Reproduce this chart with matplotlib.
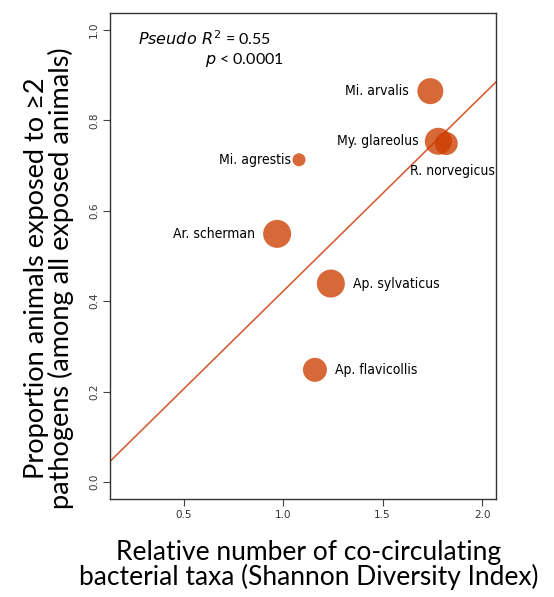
import matplotlib
matplotlib.use("Agg")
import matplotlib.pyplot as plt
import numpy as np

# Данные по видам
species = ["Mi. arvalis", "My. glareolus", "R. norvegicus", "Mi. agrestis",
           "Ar. scherman", "Ap. sylvaticus", "Ap. flavicollis"]
shannon = [1.74, 1.78, 1.82, 1.08, 0.97, 1.24, 1.16]
prop_multi = [0.865, 0.754, 0.749, 0.713, 0.549, 0.439, 0.248]
marker_diam = [26, 27, 23, 13, 28, 28, 24]  # диаметр кружка, px

# Регрессия
slope = 0.433
intercept = -0.011

pt_col = "#CC3D00"
line_col = "#D4603A"
dpi = 100
W, H = 554, 597

fig = plt.figure(figsize=(W / dpi, H / dpi), dpi=dpi)
ax = fig.add_axes([110 / W, 1 - 499 / H, 386 / W, 486 / H])

sizes = [(d * 72 / dpi) ** 2 for d in marker_diam]
ax.scatter(shannon, prop_multi, s=sizes, color=pt_col, alpha=0.78,
           linewidths=0, zorder=3)

xl = np.array([0.13, 2.07])
ax.plot(xl, intercept + slope * xl, color=line_col, lw=1.2, zorder=2)

ax.set_xlim(0.13, 2.07)
ax.set_ylim(-0.038, 1.038)

# Подписи видов
lab_font = dict(family="DejaVu Sans", fontstretch="condensed", fontsize=10)
offsets = {
    "Mi. arvalis": (-0.11, 0.0, "right", "center"),
    "My. glareolus": (-0.10, 0.0, "right", "center"),
    "R. norvegicus": (0.03, -0.06, "center", "center"),
    "Mi. agrestis": (-0.04, 0.0, "right", "center"),
    "Ar. scherman": (-0.11, 0.0, "right", "center"),
    "Ap. sylvaticus": (0.11, 0.0, "left", "center"),
    "Ap. flavicollis": (0.10, 0.0, "left", "center"),
}
for name, x, y in zip(species, shannon, prop_multi):
    dx, dy, ha, va = offsets[name]
    ax.text(x + dx, y + dy, name, ha=ha, va=va, **lab_font)

fig.text(138 / W, 1 - 39 / H, r"$\it{Pseudo\ R}^2$ = 0.55", fontsize=11.5,
         family="Lato", va="center", ha="left")
fig.text(205 / W, 1 - 60 / H, r"$\it{p}$ < 0.0001", fontsize=11.5,
         family="Lato", va="center", ha="left")

ax.set_xticks([0.5, 1.0, 1.5, 2.0])
ax.set_yticks([0.0, 0.2, 0.4, 0.6, 0.8, 1.0])
ax.tick_params(axis="both", labelsize=7.5, length=5, color="#444444",
               labelcolor="#333333", direction="out", pad=3)
for lbl in ax.get_yticklabels():
    lbl.set_rotation(90)
    lbl.set_va("center")
for sp in ax.spines.values():
    sp.set_color("#333333")
    sp.set_linewidth(1.0)

# Подписи осей
fig.text(309 / W, 1 - 565 / H,
         "Relative number of co-circulating\nbacterial taxa (Shannon Diversity Index)",
         fontsize=19, family="Lato", linespacing=0.95, ha="center", va="center",
         multialignment="center")
fig.text(49 / W, 1 - 278 / H,
         "Proportion animals exposed to \u22652\npathogens (among all exposed animals)",
         fontsize=19.5, family="Lato", linespacing=0.95, ha="center", va="center",
         rotation=90, multialignment="center")

fig.savefig("out.png", dpi=dpi)
